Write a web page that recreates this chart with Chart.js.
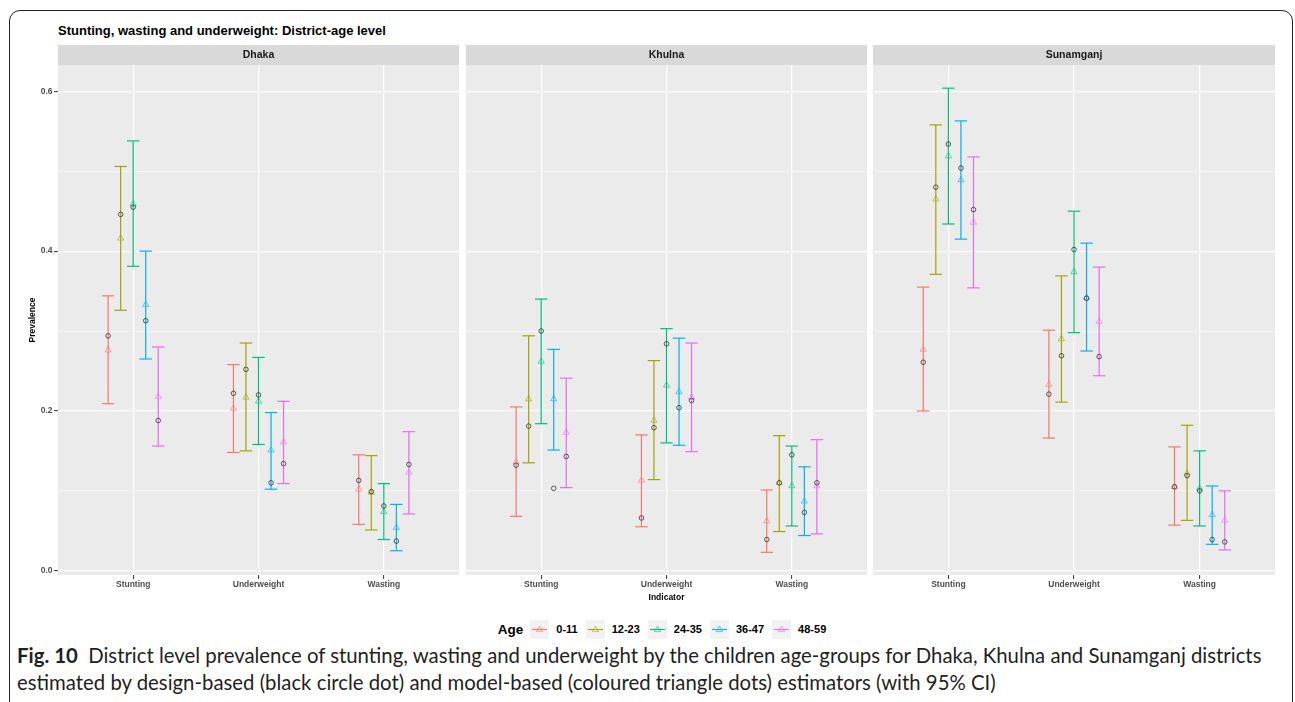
<!DOCTYPE html>
<html lang="en">
<head>
<meta charset="UTF-8">
<title>Stunting, wasting and underweight: District-age level</title>
<script src="https://cdn.jsdelivr.net/npm/chart.js"></script>
<style>
  body {
    margin: 0;
    width: 1295px;
    height: 702px;
    overflow: hidden;
    position: relative;
    background: #fff;
    font-family: "Liberation Sans", Arial, sans-serif;
  }
  .frame {
    position: absolute;
    left: 9px;
    top: 10px;
    width: 1284px;
    height: 730px;
    border: 1.4px solid #222;
    border-radius: 11px;
    box-sizing: border-box;
  }
  .title {
    position: absolute;
    left: 58px;
    top: 24px;
    font-size: 13px;
    line-height: 14px;
    font-weight: bold;
    color: #000;
  }
  canvas { position: absolute; }
  #c0 { left: 0; top: 45px; }
  #c1 { left: 466px; top: 45px; }
  #c2 { left: 873px; top: 45px; }
  .legend {
    position: absolute;
    left: 0;
    width: 1332px;
    top: 619px;
    height: 20px;
    display: flex;
    justify-content: center;
    align-items: center;
    font-weight: bold;
    color: #000;
  }
  .legend .head { font-size: 13.5px; margin-right: 7px; }
  .legend svg { display: block; }
  .legend .lab { font-size: 11px; margin: 0 8px 0 7px; }
  .caption {
    position: absolute;
    left: 17px;
    top: 642px;
    font-family: Lato, "Open Sans", sans-serif;
    font-size: 18px;
    line-height: 27px;
    color: #231f20;
    white-space: nowrap;
  }
  .caption b { font-weight: bold; }
</style>
</head>
<body>
<div class="frame"></div>
<div class="title">Stunting, wasting and underweight: District-age level</div>
<canvas id="c0" width="459" height="555"></canvas>
<canvas id="c1" width="401" height="558"></canvas>
<canvas id="c2" width="402" height="555"></canvas>
<div class="legend" id="legend"><span class="head">Age</span></div>
<div class="caption" id="caption"><span id="capLine"><b>Fig. 10</b>&nbsp; District level prevalence of stunting, wasting and underweight by the children age-groups for Dhaka, Khulna and Sunamganj districts</span><br>estimated by design-based (black circle dot) and model-based (coloured triangle dots) estimators (with 95% CI)</div>

<script>
// categories
const districts = ['Dhaka', 'Khulna', 'Sunamganj'];
const indicators = ['Stunting', 'Underweight', 'Wasting'];
const ageGroups = ['0-11', '12-23', '24-35', '36-47', '48-59'];

// each array: rows = Stunting, Underweight, Wasting; columns = age groups
const dhakaLower = [[0.209, 0.326, 0.381, 0.265, 0.156], [0.148, 0.150, 0.158, 0.102, 0.109], [0.058, 0.051, 0.039, 0.025, 0.071]];
const dhakaUpper = [[0.344, 0.506, 0.538, 0.400, 0.280], [0.258, 0.285, 0.267, 0.198, 0.212], [0.145, 0.144, 0.109, 0.083, 0.174]];
const dhakaDesign = [[0.294, 0.446, 0.455, 0.313, 0.188], [0.222, 0.252, 0.220, 0.110, 0.134], [0.113, 0.099, 0.081, 0.037, 0.133]];
const dhakaModel = [[0.276, 0.416, 0.459, 0.333, 0.218], [0.203, 0.217, 0.212, 0.151, 0.161], [0.102, 0.098, 0.074, 0.054, 0.123]];

const khulnaLower = [[0.068, 0.135, 0.184, 0.151, 0.104], [0.055, 0.114, 0.160, 0.157, 0.149], [0.023, 0.049, 0.056, 0.044, 0.046]];
const khulnaUpper = [[0.205, 0.294, 0.340, 0.277, 0.241], [0.170, 0.263, 0.303, 0.291, 0.285], [0.101, 0.169, 0.156, 0.130, 0.164]];
const khulnaDesign = [[0.132, 0.181, 0.300, 0.103, 0.143], [0.066, 0.179, 0.284, 0.204, 0.213], [0.039, 0.110, 0.145, 0.073, 0.110]];
const khulnaModel = [[0.136, 0.215, 0.262, 0.215, 0.173], [0.113, 0.188, 0.232, 0.224, 0.217], [0.062, 0.110, 0.106, 0.087, 0.106]];

const sunamganjLower = [[0.200, 0.371, 0.434, 0.415, 0.354], [0.166, 0.211, 0.298, 0.275, 0.244], [0.057, 0.063, 0.056, 0.033, 0.026]];
const sunamganjUpper = [[0.355, 0.558, 0.604, 0.563, 0.518], [0.301, 0.369, 0.450, 0.410, 0.380], [0.155, 0.182, 0.150, 0.106, 0.100]];
const sunamganjDesign = [[0.261, 0.480, 0.534, 0.504, 0.452], [0.221, 0.269, 0.402, 0.341, 0.268], [0.105, 0.119, 0.100, 0.039, 0.036]];
const sunamganjModel = [[0.277, 0.465, 0.519, 0.489, 0.436], [0.233, 0.290, 0.374, 0.342, 0.312], [0.105, 0.122, 0.103, 0.070, 0.063]];

const lowerSets = [dhakaLower, khulnaLower, sunamganjLower];
const upperSets = [dhakaUpper, khulnaUpper, sunamganjUpper];
const designSets = [dhakaDesign, khulnaDesign, sunamganjDesign];
const modelSets = [dhakaModel, khulnaModel, sunamganjModel];

// ggplot default hue palette
const colors = ['#F8766D', '#A3A500', '#00BF7D', '#00B0F6', '#E76BF3'];
const faded = ['rgba(248,118,109,0.6)', 'rgba(163,165,0,0.6)', 'rgba(0,191,125,0.6)', 'rgba(0,176,246,0.6)', 'rgba(231,107,243,0.6)'];

Chart.defaults.font.family = '"Liberation Sans", Arial, sans-serif';
Chart.defaults.animation = false;

const dodge = (i, a) => i + 1 + (a - 2) * 0.1;
const isMajor = v => Math.round(v * 10) % 2 === 0;

// grey panel + facet strip behind the grid
const panelPlugin = {
  id: 'panel',
  beforeDraw(chart, args, opts) {
    const { ctx, chartArea: { left, right, top, bottom } } = chart;
    ctx.save();
    ctx.fillStyle = '#EBEBEB';
    ctx.fillRect(left, top, right - left, bottom - top);
    ctx.fillStyle = '#D9D9D9';
    ctx.fillRect(left, top - 20, right - left, 20);
    ctx.fillStyle = '#1A1A1A';
    ctx.font = 'bold 10.5px "Liberation Sans", Arial, sans-serif';
    ctx.textAlign = 'center';
    ctx.textBaseline = 'middle';
    ctx.fillText(opts.label, (left + right) / 2, top - 10);
    ctx.restore();
  }
};

function buildDatasets(d) {
  const sets = [];
  const circles = [];
  indicators.forEach((ind, i) => {
    ageGroups.forEach((g, a) => circles.push({ x: dodge(i, a), y: designSets[d][i][a] }));
  });
  sets.push({
    type: 'scatter', label: 'design', data: circles,
    pointStyle: 'circle', pointRadius: 2.3,
    pointBorderColor: 'rgba(45,45,45,0.85)', pointBackgroundColor: 'rgba(0,0,0,0)', pointBorderWidth: 0.9
  });
  ageGroups.forEach((g, a) => {
    sets.push({
      type: 'scatter', label: g, data: indicators.map((ind, i) => ({ x: dodge(i, a), y: modelSets[d][i][a] })),
      pointStyle: 'triangle', pointRadius: 3.6,
      pointBorderColor: faded[a], pointBackgroundColor: 'rgba(0,0,0,0)', pointBorderWidth: 1
    });
  });
  ageGroups.forEach((g, a) => {
    const pts = [];
    indicators.forEach((ind, i) => {
      pts.push({ x: dodge(i, a), y: lowerSets[d][i][a] });
      pts.push({ x: dodge(i, a), y: upperSets[d][i][a] });
      pts.push({ x: dodge(i, a), y: null });
    });
    sets.push({
      type: 'line', label: g + ' CI', data: pts, spanGaps: false,
      borderColor: colors[a], borderWidth: 1.2, fill: false,
      pointStyle: 'line', pointRadius: 6.2, pointHoverRadius: 6.2,
      pointBorderColor: colors[a], pointBorderWidth: 1.2
    });
  });
  return sets;
}

function makeChart(id, d, yWidth, xHeight, showY, showXTitle) {
  new Chart(document.getElementById(id), {
    type: 'line',
    data: { datasets: buildDatasets(d) },
    plugins: [panelPlugin],
    options: {
      responsive: false,
      events: [],
      layout: { padding: { top: 20 }, autoPadding: false },
      plugins: {
        legend: { display: false },
        tooltip: { enabled: false },
        panel: { label: districts[d] }
      },
      scales: {
        x: {
          type: 'linear', min: 0.4, max: 3.6,
          afterFit: s => { s.height = xHeight; },
          border: { display: false },
          grid: { color: '#fff', lineWidth: 1.2, tickLength: 4, tickColor: '#333', tickWidth: 1 },
          ticks: {
            stepSize: 1, includeBounds: false, autoSkip: false, maxRotation: 0, padding: 1,
            color: '#4D4D4D', font: { size: 8.5, weight: 'bold' },
            callback: v => indicators[v - 1] || ''
          },
          title: {
            display: showXTitle, text: 'Indicator', color: '#000',
            font: { size: 8.5, weight: 'bold' }, padding: { top: 0, bottom: 0.6 }
          }
        },
        y: {
          min: -0.0054, max: 0.633,
          afterFit: s => { s.width = yWidth; },
          border: { display: false },
          grid: {
            color: '#fff',
            lineWidth: c => isMajor(c.tick.value) ? 1.2 : 0.6,
            drawTicks: showY, tickLength: 4, tickWidth: 1,
            tickColor: c => isMajor(c.tick.value) ? '#333' : 'rgba(0,0,0,0)'
          },
          ticks: {
            display: showY, stepSize: 0.1, includeBounds: false, padding: 1.5,
            color: '#4D4D4D', font: { size: 8.5, weight: 'bold' },
            callback: v => isMajor(v) ? v.toFixed(1) : ''
          },
          title: {
            display: showY, text: 'Prevalence', color: '#000',
            font: { size: 8.5, weight: 'bold' }, padding: { top: 27.9, bottom: 0 }
          }
        }
      }
    }
  });
}

makeChart('c0', 0, 58, 25, true, false);
makeChart('c1', 1, 0, 28, false, true);
makeChart('c2', 2, 0, 25, false, false);

// legend: line + open triangle key for each age group
const legend = document.getElementById('legend');
ageGroups.forEach((g, a) => {
  const key = document.createElementNS('http://www.w3.org/2000/svg', 'svg');
  key.setAttribute('width', '19');
  key.setAttribute('height', '19');
  key.innerHTML =
    '<rect width="19" height="19" fill="#F2F2F2"/>' +
    '<line x1="2" y1="9.5" x2="17" y2="9.5" stroke="' + colors[a] + '" stroke-width="1.1"/>' +
    '<polygon points="9.5,6 12.7,11.6 6.3,11.6" fill="none" stroke="' + faded[a] + '" stroke-width="1"/>';
  legend.appendChild(key);
  const lab = document.createElement('span');
  lab.className = 'lab';
  lab.textContent = g;
  legend.appendChild(lab);
});

// fit caption line to the figure width
const capLine = document.getElementById('capLine');
const w = capLine.getBoundingClientRect().width;
document.getElementById('caption').style.fontSize = (18 * 1245 / w).toFixed(2) + 'px';
</script>
</body>
</html>
